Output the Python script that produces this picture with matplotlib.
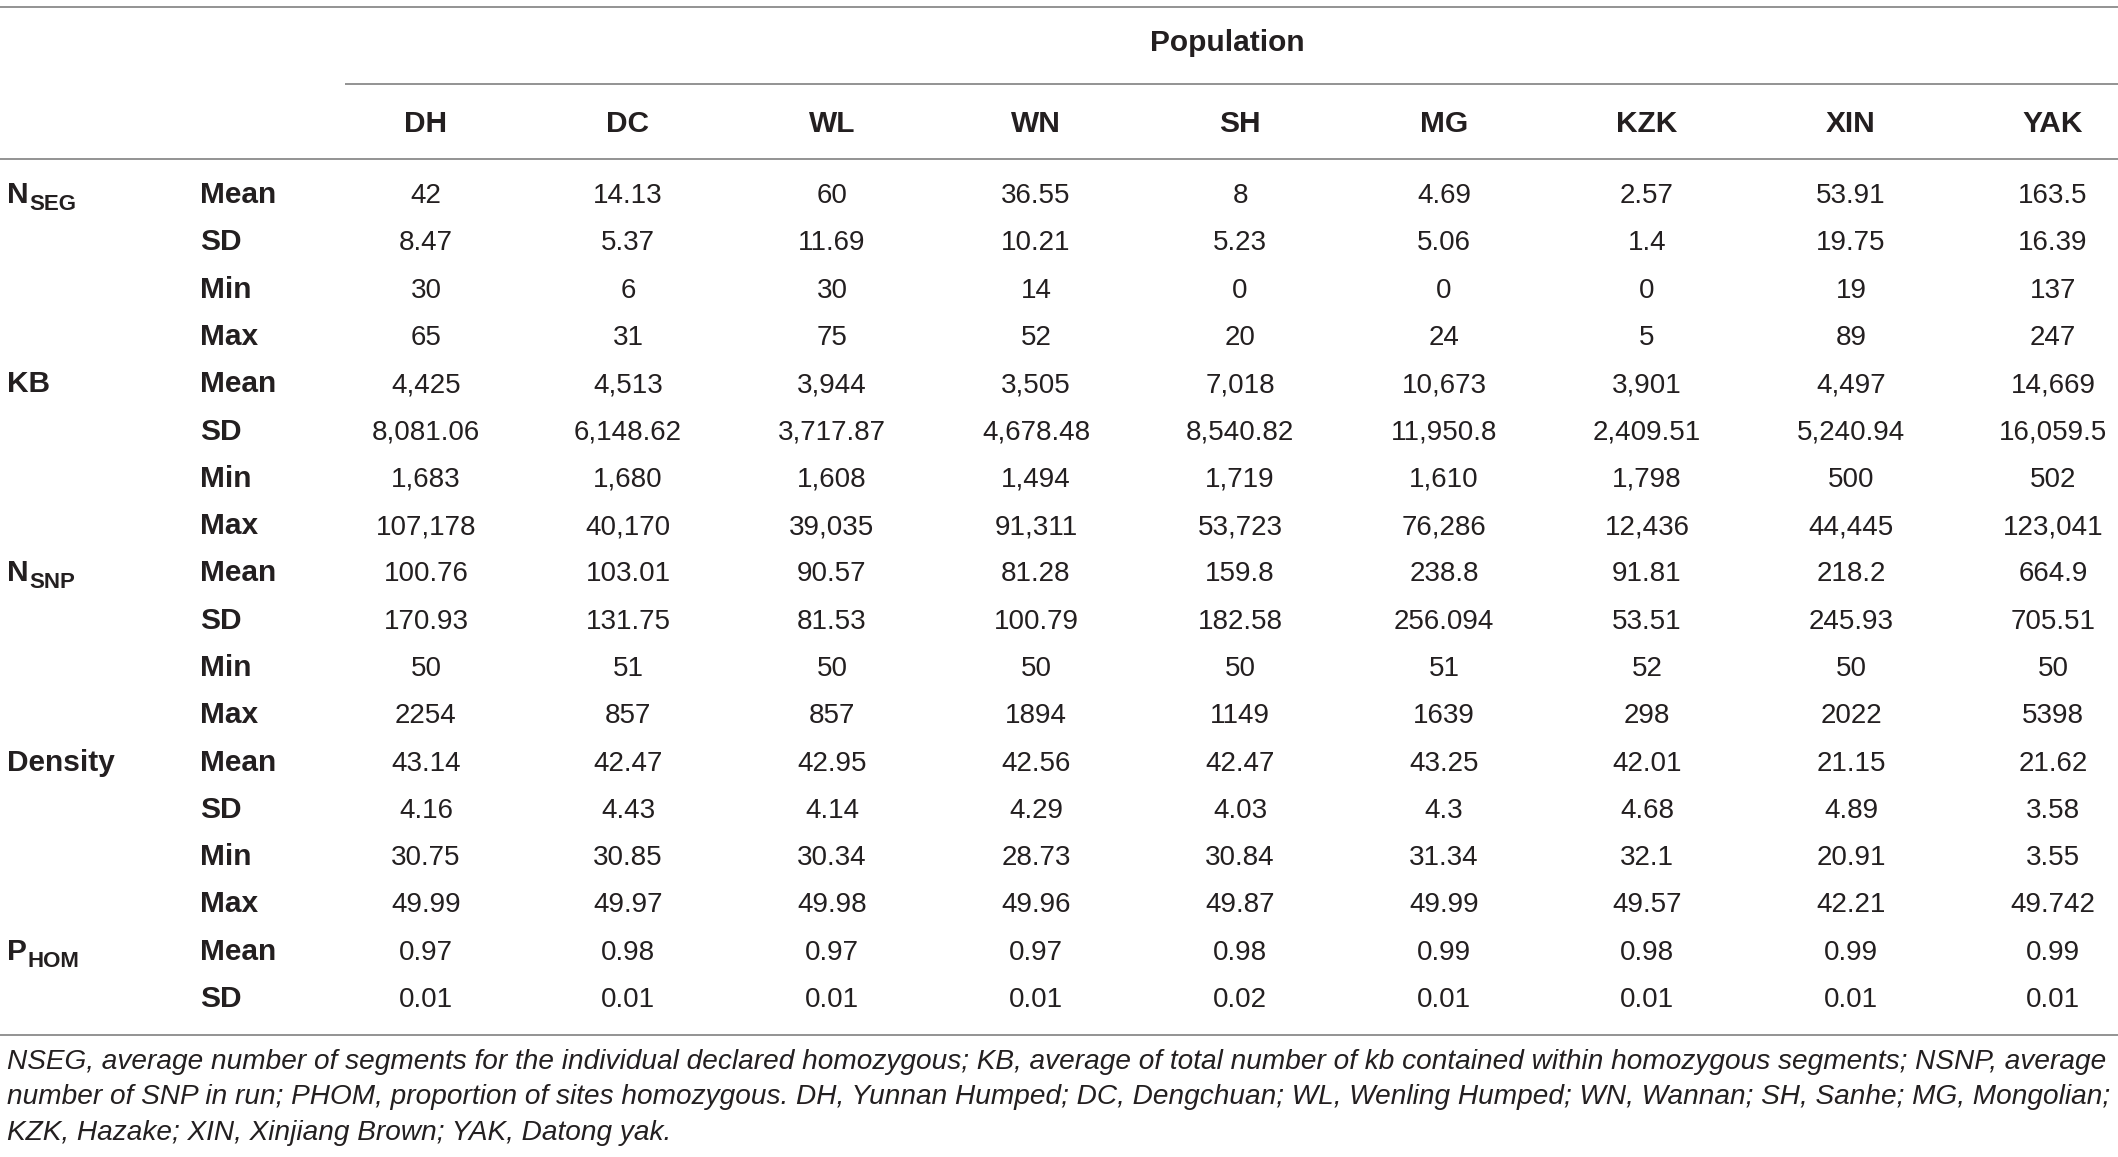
import matplotlib
matplotlib.use("Agg")
import matplotlib.pyplot as plt
from matplotlib import font_manager

# ── Data ──────────────────────────────────────────────────────────────────────
populations = ["DH", "DC", "WL", "WN", "SH", "MG", "KZK", "XIN", "YAK"]

# group label = (main letter(s), subscript)
groups = [("N", "SEG"), ("KB", ""), ("N", "SNP"), ("Density", ""), ("P", "HOM")]
stats = [
    ["Mean", "SD", "Min", "Max"],
    ["Mean", "SD", "Min", "Max"],
    ["Mean", "SD", "Min", "Max"],
    ["Mean", "SD", "Min", "Max"],
    ["Mean", "SD"],
]

nseg = [
    ["42", "14.13", "60", "36.55", "8", "4.69", "2.57", "53.91", "163.5"],
    ["8.47", "5.37", "11.69", "10.21", "5.23", "5.06", "1.4", "19.75", "16.39"],
    ["30", "6", "30", "14", "0", "0", "0", "19", "137"],
    ["65", "31", "75", "52", "20", "24", "5", "89", "247"],
]
kb = [
    ["4,425", "4,513", "3,944", "3,505", "7,018", "10,673", "3,901", "4,497", "14,669"],
    ["8,081.06", "6,148.62", "3,717.87", "4,678.48", "8,540.82", "11,950.8", "2,409.51", "5,240.94", "16,059.5"],
    ["1,683", "1,680", "1,608", "1,494", "1,719", "1,610", "1,798", "500", "502"],
    ["107,178", "40,170", "39,035", "91,311", "53,723", "76,286", "12,436", "44,445", "123,041"],
]
nsnp = [
    ["100.76", "103.01", "90.57", "81.28", "159.8", "238.8", "91.81", "218.2", "664.9"],
    ["170.93", "131.75", "81.53", "100.79", "182.58", "256.094", "53.51", "245.93", "705.51"],
    ["50", "51", "50", "50", "50", "51", "52", "50", "50"],
    ["2254", "857", "857", "1894", "1149", "1639", "298", "2022", "5398"],
]
density = [
    ["43.14", "42.47", "42.95", "42.56", "42.47", "43.25", "42.01", "21.15", "21.62"],
    ["4.16", "4.43", "4.14", "4.29", "4.03", "4.3", "4.68", "4.89", "3.58"],
    ["30.75", "30.85", "30.34", "28.73", "30.84", "31.34", "32.1", "20.91", "3.55"],
    ["49.99", "49.97", "49.98", "49.96", "49.87", "49.99", "49.57", "42.21", "49.742"],
]
phom = [
    ["0.97", "0.98", "0.97", "0.97", "0.98", "0.99", "0.98", "0.99", "0.99"],
    ["0.01", "0.01", "0.01", "0.01", "0.02", "0.01", "0.01", "0.01", "0.01"],
]
values = [nseg, kb, nsnp, density, phom]

footnote = [
    "NSEG, average number of segments for the individual declared homozygous; KB, average of total number of kb contained within homozygous segments; NSNP, average",
    "number of SNP in run; PHOM, proportion of sites homozygous. DH, Yunnan Humped; DC, Dengchuan; WL, Wenling Humped; WN, Wannan; SH, Sanhe; MG, Mongolian;",
    "KZK, Hazake; XIN, Xinjiang Brown; YAK, Datong yak.",
]

# ── Style ─────────────────────────────────────────────────────────────────────
names = {f.name for f in font_manager.fontManager.ttflist}
FONT = "Liberation Sans Narrow" if "Liberation Sans Narrow" in names else "Liberation Sans"
plt.rcParams["font.family"] = FONT

FS_NUM = 20      # numbers
FS_BOLD = 21.5   # row / column labels
FS_SUB = 16      # subscripts

W, H = 2118, 1157
LINE_C = "#8a8a8a"
TEXT_C = "#231f20"

col_x = [426, 628, 832, 1036, 1240, 1444, 1647, 1851, 2053]
X_GROUP = 7
X_STAT = 200
Y_ROW0 = 193
ROW_H = 47.3
BASE = 10        # baseline offset below row centre

fig = plt.figure(figsize=(W / 100, H / 100), dpi=100)
ax = fig.add_axes([0, 0, 1, 1])
ax.set_xlim(0, W)
ax.set_ylim(H, 0)
ax.axis("off")
renderer = fig.canvas.get_renderer()

# rules
for x0, y in [(0, 7), (345, 84), (0, 159), (0, 1035)]:
    ax.plot([x0, W], [y, y], color=LINE_C, lw=1.3, solid_capstyle="butt")

# headers
ax.text(1227, 43, "Population", ha="center", va="center",
        fontsize=FS_BOLD, fontweight="bold", color=TEXT_C)
for x, p in zip(col_x, populations):
    ax.text(x, 124, p, ha="center", va="center",
            fontsize=FS_BOLD, fontweight="bold", color=TEXT_C)

# body
inv = ax.transData.inverted()
r = 0
for (g, sub), st, vals in zip(groups, stats, values):
    yg = Y_ROW0 + r * ROW_H
    t = ax.text(X_GROUP, yg + BASE, g, ha="left", va="baseline",
                fontsize=FS_BOLD, fontweight="bold", color=TEXT_C)
    if sub:
        bb = t.get_window_extent(renderer)
        x_end = inv.transform((bb.x1, bb.y0))[0]
        ax.text(x_end + 1, yg + BASE + 7, sub, ha="left", va="baseline",
                fontsize=FS_SUB, fontweight="bold", color=TEXT_C)
    for s, row in zip(st, vals):
        y = Y_ROW0 + r * ROW_H
        ax.text(X_STAT, y + BASE, s, ha="left", va="baseline",
                fontsize=FS_BOLD, fontweight="bold", color=TEXT_C)
        for x, v in zip(col_x, row):
            ax.text(x, y + BASE, v, ha="center", va="baseline",
                    fontsize=FS_NUM, color=TEXT_C)
        r += 1

# footnote, sized so the first line fills the width
probe = ax.text(0, 0, footnote[0], fontsize=10, style="italic")
w10 = probe.get_window_extent(renderer).width
probe.remove()
fs_note = 10 * 2100 / w10
for i, line in enumerate(footnote):
    ax.text(7, 1069 + i * 35.5, line, ha="left", va="baseline",
            fontsize=fs_note, style="italic", color=TEXT_C)

fig.savefig("out.png", dpi=100)
